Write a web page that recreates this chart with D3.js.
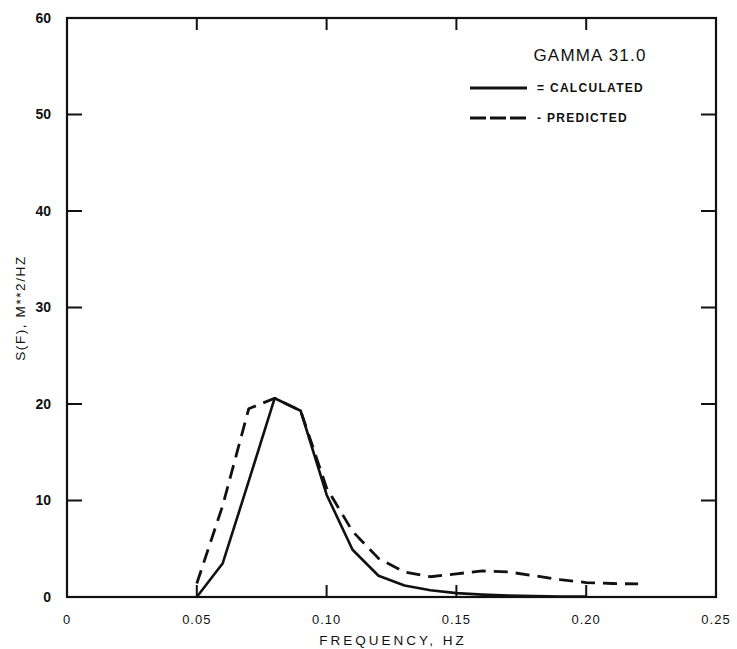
<!DOCTYPE html>
<html>
<head>
<meta charset="utf-8">
<script src="https://cdn.jsdelivr.net/npm/d3@7"></script>
<style>
  html, body { margin: 0; padding: 0; background: #fff; }
  svg { display: block; }
  text { font-family: "Liberation Sans", Arial, sans-serif; fill: #111; }
</style>
</head>
<body>
<svg id="chart" width="737" height="649"></svg>
<script>
// Spectral density S(f) for GAMMA 31.0, calculated vs predicted
const frequency  = [0.05, 0.06, 0.07, 0.08, 0.09, 0.10, 0.11, 0.12, 0.13, 0.14, 0.15, 0.16, 0.17, 0.18, 0.19, 0.20, 0.21, 0.22];
const calculated = [0.0, 3.5, 12.0, 20.6, 19.3, 10.6, 4.9, 2.2, 1.2, 0.7, 0.4, 0.25, 0.15, 0.1, 0.05, 0.05];
const predicted  = [1.4, 9.5, 19.5, 20.6, 19.3, 11.3, 6.8, 4.0, 2.6, 2.1, 2.4, 2.7, 2.6, 2.2, 1.8, 1.5, 1.4, 1.35];
const xTicks = [0, 0.05, 0.10, 0.15, 0.20, 0.25];
const xTickLabels = ["0", "0.05", "0.10", "0.15", "0.20", "0.25"];
const yTicks = [0, 10, 20, 30, 40, 50, 60];
const seriesNames = ["= CALCULATED", "- PREDICTED"];
const legendTitle = "GAMMA 31.0";

const svg = d3.select("#chart");
const plot = { left: 67, right: 716, top: 18, bottom: 597 };

const x = d3.scaleLinear().domain([0, 0.25]).range([plot.left, plot.right]);
const y = d3.scaleLinear().domain([0, 60]).range([plot.bottom, plot.top]);

// frame
svg.append("rect")
  .attr("x", plot.left).attr("y", plot.top)
  .attr("width", plot.right - plot.left).attr("height", plot.bottom - plot.top)
  .attr("fill", "none").attr("stroke", "#111").attr("stroke-width", 2.2);

// inward ticks on all four sides
const innerX = xTicks.filter(d => d > 0 && d < 0.25);
const innerY = yTicks.filter(d => d > 0 && d < 60);
const tickG = svg.append("g").attr("stroke", "#111").attr("stroke-width", 2);
tickG.selectAll(".tb").data(innerX).join("line")
  .attr("x1", d => x(d)).attr("x2", d => x(d))
  .attr("y1", plot.bottom).attr("y2", plot.bottom - 12);
tickG.selectAll(".tt").data(innerX).join("line")
  .attr("x1", d => x(d)).attr("x2", d => x(d))
  .attr("y1", plot.top).attr("y2", plot.top + 12);
tickG.selectAll(".tl").data(innerY).join("line")
  .attr("x1", plot.left).attr("x2", plot.left + 15)
  .attr("y1", d => y(d)).attr("y2", d => y(d));
tickG.selectAll(".tr").data(innerY).join("line")
  .attr("x1", plot.right).attr("x2", plot.right - 15)
  .attr("y1", d => y(d)).attr("y2", d => y(d));

// tick labels
svg.append("g").selectAll("text").data(yTicks).join("text")
  .attr("x", plot.left - 16).attr("y", d => y(d)).attr("dy", "0.35em")
  .attr("text-anchor", "end").attr("font-size", 14).attr("font-weight", "bold")
  .text(d => d);
svg.append("g").selectAll("text").data(xTicks).join("text")
  .attr("x", d => x(d)).attr("y", plot.bottom + 22).attr("dy", "0.35em")
  .attr("text-anchor", "middle").attr("font-size", 13).attr("letter-spacing", 1)
  .text((d, i) => xTickLabels[i]);

// axis titles
svg.append("text")
  .attr("x", 393).attr("y", 640).attr("dy", "0.35em")
  .attr("text-anchor", "middle").attr("font-size", 13.5).attr("letter-spacing", 3)
  .text("FREQUENCY,  HZ");
svg.append("text")
  .attr("transform", "translate(20,308) rotate(-90)")
  .attr("dy", "0.35em").attr("text-anchor", "middle")
  .attr("font-size", 13.5).attr("letter-spacing", 1.6)
  .text("S(F),  M**2/HZ");

// curves
const line = d3.line().x(d => x(d[0])).y(d => y(d[1])).curve(d3.curveLinear);
const calcPts = calculated.map((v, i) => [frequency[i], v]);
const predPts = predicted.map((v, i) => [frequency[i], v]);

svg.append("path").datum(predPts).attr("d", line)
  .attr("fill", "none").attr("stroke", "#111").attr("stroke-width", 2.8)
  .attr("stroke-dasharray", "14,8").attr("stroke-linejoin", "round");
svg.append("path").datum(calcPts).attr("d", line)
  .attr("fill", "none").attr("stroke", "#111").attr("stroke-width", 2.6)
  .attr("stroke-linejoin", "round");

// legend
svg.append("text")
  .attr("x", 590).attr("y", 55).attr("dy", "0.35em")
  .attr("text-anchor", "middle").attr("font-size", 17).attr("letter-spacing", 1.2)
  .text(legendTitle);
const legendRows = [
  { name: seriesNames[0], y: 88, dash: null },
  { name: seriesNames[1], y: 118, dash: "16,4" }
];
const lg = svg.append("g");
legendRows.forEach(r => {
  lg.append("line")
    .attr("x1", 470).attr("x2", 527).attr("y1", r.y).attr("y2", r.y)
    .attr("stroke", "#111").attr("stroke-width", 3)
    .attr("stroke-dasharray", r.dash);
  lg.append("text")
    .attr("x", 537).attr("y", r.y).attr("dy", "0.35em")
    .attr("font-size", 12).attr("font-weight", "bold").attr("letter-spacing", 1.3)
    .text(r.name);
});
</script>
</body>
</html>
